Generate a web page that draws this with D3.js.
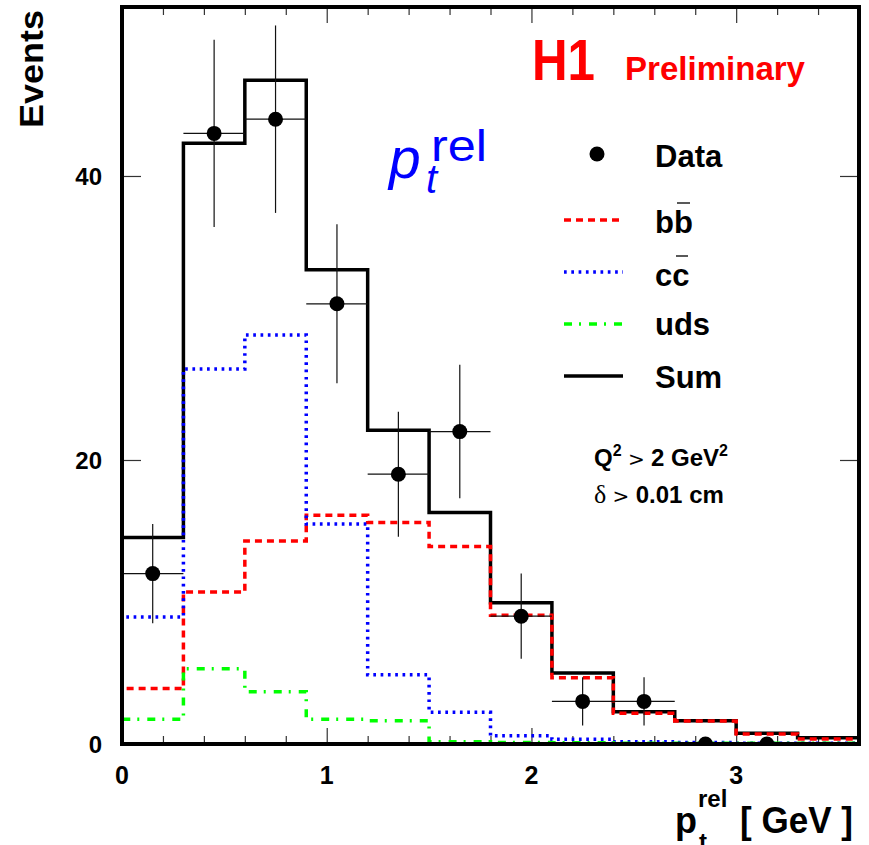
<!DOCTYPE html>
<html lang="en">
<head>
<meta charset="UTF-8">
<title>H1 pt rel</title>
<script src="https://cdn.jsdelivr.net/npm/d3@7"></script>
<style>
  body { margin: 0; background: #fff; }
  text { font-family: "Liberation Sans", Arial, Helvetica, sans-serif; }
</style>
</head>
<body>
<svg id="chart" width="869" height="845"></svg>
<script>
    // bin edges of the histograms (GeV)
    const binEdges = [0, 0.3, 0.6, 0.9, 1.2, 1.5, 1.8, 2.1, 2.4, 2.7, 3.0, 3.3, 3.6]
    // MC components, events per bin
    const sumVals = [14.55, 42.3, 46.75, 33.4, 22.1, 16.3, 9.95, 5.0, 2.27, 1.64, 0.75, 0.44]
    const bbVals  = [3.9, 10.7, 14.3, 16.1, 15.6, 13.9, 9.07, 4.66, 2.16, 1.62, 0.7, 0.35]
    const ccVals  = [8.95, 26.4, 28.8, 15.5, 4.87, 2.23, 0.58, 0.33, 0.16, 0.1, 0.06, 0.05]
    const udsVals = [1.74, 5.3, 3.68, 1.74, 1.64, 0.15, 0.1, 0.08, 0.06, 0.05, 0.05, 0.05]
    // data points
    const dataX   = [0.15, 0.45, 0.75, 1.05, 1.35, 1.65, 1.95, 2.25, 2.55, 2.85, 3.15]
    const dataY   = [12, 43, 44, 31, 19, 22, 9, 3, 3, 0, 0]
    const dataErr = [3.5, 6.6, 6.6, 5.6, 4.4, 4.7, 3.0, 1.7, 1.7, 0, 0]
    const xMajor = [0, 1, 2, 3]
    const xMinor = [0.2, 0.4, 0.6, 0.8, 1.2, 1.4, 1.6, 1.8, 2.2, 2.4, 2.6, 2.8, 3.2, 3.4]
    const yMajor = [0, 20, 40]

    const svg = d3.select("#chart")
    const pLeft = 122, pRight = 859, pTop = 7, pBottom = 744

    const x = d3.scaleLinear().domain([0, 3.6]).range([pLeft, pRight])
    const y = d3.scaleLinear().domain([0, 51.9]).range([pBottom, pTop])

    svg.append("clipPath").attr("id", "plotclip")
        .append("rect")
        .attr("x", pLeft).attr("y", pTop)
        .attr("width", pRight - pLeft).attr("height", pBottom - pTop)

    // ticks (drawn with d3 axes, labels hidden; labels placed separately)
    function tickAxis(axis, transform) {
        const g = svg.append("g").attr("transform", transform).call(axis)
        g.select(".domain").remove()
        g.selectAll("line").attr("stroke", "#333").attr("stroke-width", 1.2)
        g.selectAll("text").remove()
    }
    tickAxis(d3.axisBottom(x).tickValues(xMajor).tickSize(-16), `translate(0,${pBottom})`)
    tickAxis(d3.axisBottom(x).tickValues(xMinor).tickSize(-8), `translate(0,${pBottom})`)
    tickAxis(d3.axisTop(x).tickValues(xMajor).tickSize(-16), `translate(0,${pTop})`)
    tickAxis(d3.axisTop(x).tickValues(xMinor).tickSize(-8), `translate(0,${pTop})`)
    tickAxis(d3.axisLeft(y).tickValues(yMajor).tickSize(-19), `translate(${pLeft},0)`)
    tickAxis(d3.axisRight(y).tickValues(yMajor).tickSize(-19), `translate(${pRight},0)`)

    // tick labels
    svg.append("g").selectAll("text").data(xMajor).enter().append("text")
        .attr("x", d => x(d)).attr("y", 784)
        .attr("text-anchor", "middle")
        .attr("font-size", 25).attr("font-weight", "bold")
        .text(d => d)
    svg.append("g").selectAll("text").data(yMajor).enter().append("text")
        .attr("x", 102).attr("y", d => y(d) + 9)
        .attr("text-anchor", "end")
        .attr("font-size", 24).attr("font-weight", "bold")
        .text(d => d)

    // histograms
    function stepLine(vals) {
        const pts = [[binEdges[0], 0]]
        vals.forEach((v, i) => pts.push([binEdges[i], v]))
        pts.push([binEdges[binEdges.length - 1], vals[vals.length - 1]])
        return d3.line().x(d => x(d[0])).y(d => y(d[1])).curve(d3.curveStepAfter)(pts)
    }
    const plot = svg.append("g").attr("clip-path", "url(#plotclip)")
    const series = [
        {vals: sumVals, color: "#000", dash: null},
        {vals: bbVals, color: "#ff0000", dash: "7,5"},
        {vals: ccVals, color: "#0000ff", dash: "2.7,4.6"},
        {vals: udsVals, color: "#00ff00", dash: "8,7,2,8"}
    ]
    series.forEach(s => {
        plot.append("path")
            .attr("d", stepLine(s.vals))
            .attr("fill", "none")
            .attr("stroke", s.color)
            .attr("stroke-width", 3.5)
            .attr("stroke-dasharray", s.dash)
    })

    // data points with error bars
    const pts = plot.append("g").selectAll("g").data(dataX).enter().append("g")
    pts.append("line")
        .attr("x1", d => x(d - 0.15)).attr("x2", d => x(d + 0.15))
        .attr("y1", (d, i) => y(dataY[i])).attr("y2", (d, i) => y(dataY[i]))
        .attr("stroke", "#111").attr("stroke-width", 1.2)
    pts.append("line")
        .attr("x1", d => x(d)).attr("x2", d => x(d))
        .attr("y1", (d, i) => y(dataY[i] - dataErr[i])).attr("y2", (d, i) => y(dataY[i] + dataErr[i]))
        .attr("stroke", "#111").attr("stroke-width", 1.2)
    pts.append("circle")
        .attr("cx", d => x(d)).attr("cy", (d, i) => y(dataY[i]))
        .attr("r", 7.5).attr("fill", "#000")

    // frame
    svg.append("rect")
        .attr("x", pLeft).attr("y", pTop)
        .attr("width", pRight - pLeft).attr("height", pBottom - pTop)
        .attr("fill", "none").attr("stroke", "#000").attr("stroke-width", 4)

    // axis titles
    svg.append("text")
        .attr("transform", "translate(43,10) rotate(-90)")
        .attr("text-anchor", "end")
        .attr("font-size", 34).attr("font-weight", "bold")
        .attr("textLength", 118).attr("lengthAdjust", "spacingAndGlyphs")
        .text("Events")
    const xt = svg.append("g").attr("font-weight", "bold")
    xt.append("text").attr("x", 675).attr("y", 833).attr("font-size", 36).text("p")
    xt.append("text").attr("x", 699).attr("y", 850).attr("font-size", 24).text("t")
    xt.append("text").attr("x", 698).attr("y", 807).attr("font-size", 24).text("rel")
    xt.append("text").attr("x", 740).attr("y", 833).attr("font-size", 36)
        .attr("textLength", 113).attr("lengthAdjust", "spacingAndGlyphs")
        .text("[ GeV ]")

    // H1 Preliminary
    svg.append("text").attr("x", 532).attr("y", 80)
        .attr("font-size", 57).attr("font-weight", "bold").attr("fill", "#ff0000")
        .attr("textLength", 63).attr("lengthAdjust", "spacingAndGlyphs")
        .text("H1")
    svg.append("text").attr("x", 625).attr("y", 80)
        .attr("font-size", 33).attr("font-weight", "bold").attr("fill", "#ff0000")
        .attr("textLength", 180).attr("lengthAdjust", "spacingAndGlyphs")
        .text("Preliminary")

    // blue p_t^rel
    const pr = svg.append("g").attr("fill", "#0000ff")
    pr.append("text").attr("x", 389).attr("y", 178)
        .attr("font-family", "'Liberation Serif', 'Times New Roman', serif")
        .attr("font-style", "italic").attr("font-size", 57).text("p")
    pr.append("text").attr("x", 426).attr("y", 193)
        .attr("font-family", "'Liberation Serif', 'Times New Roman', serif")
        .attr("font-style", "italic").attr("font-size", 40).text("t")
    pr.append("text").attr("x", 431).attr("y", 161)
        .attr("font-size", 44)
        .attr("textLength", 56).attr("lengthAdjust", "spacingAndGlyphs")
        .text("rel")

    // legend
    const leg = svg.append("g")
    leg.append("circle").attr("cx", 597).attr("cy", 154).attr("r", 7.5).attr("fill", "#000")
    const legRows = [
        {label: "Data", y: 167, line: null},
        {label: "bb", y: 233, line: series[1], ly: 220, bar: [677, 690, 203]},
        {label: "cc", y: 286, line: series[2], ly: 272, bar: [676, 688, 256]},
        {label: "uds", y: 335, line: series[3], ly: 324},
        {label: "Sum", y: 388, line: series[0], ly: 376}
    ]
    legRows.forEach(r => {
        leg.append("text").attr("x", 655).attr("y", r.y)
            .attr("font-size", 31).attr("font-weight", "bold").text(r.label)
        if (r.line) {
            leg.append("line")
                .attr("x1", 564).attr("x2", 623).attr("y1", r.ly).attr("y2", r.ly)
                .attr("stroke", r.line.color).attr("stroke-width", 3.5)
                .attr("stroke-dasharray", r.line.dash)
        }
        if (r.bar) {
            leg.append("line")
                .attr("x1", r.bar[0]).attr("x2", r.bar[1]).attr("y1", r.bar[2]).attr("y2", r.bar[2])
                .attr("stroke", "#222").attr("stroke-width", 1.5)
        }
    })

    // cuts
    const cut = svg.append("g").attr("font-size", 24).attr("font-weight", "bold")
    const q = cut.append("text").attr("x", 594).attr("y", 466)
    q.append("tspan").text("Q")
    q.append("tspan").attr("font-size", 16).attr("dy", -10).text("2")
    q.append("tspan").attr("dy", 10).attr("font-weight", "normal").attr("font-family", "'DejaVu Sans', sans-serif").attr("font-size", 20).text(" > ")
    q.append("tspan").text("2 GeV")
    q.append("tspan").attr("font-size", 16).attr("dy", -10).text("2")
    const dl = cut.append("text").attr("x", 594).attr("y", 503)
    dl.append("tspan").attr("font-weight", "normal").attr("font-family", "'Liberation Serif', serif").attr("font-size", 26).text("δ")
    dl.append("tspan").attr("font-weight", "normal").attr("font-family", "'DejaVu Sans', sans-serif").attr("font-size", 20).text(" > ")
    dl.append("tspan").text("0.01 cm")
</script>
</body>
</html>
